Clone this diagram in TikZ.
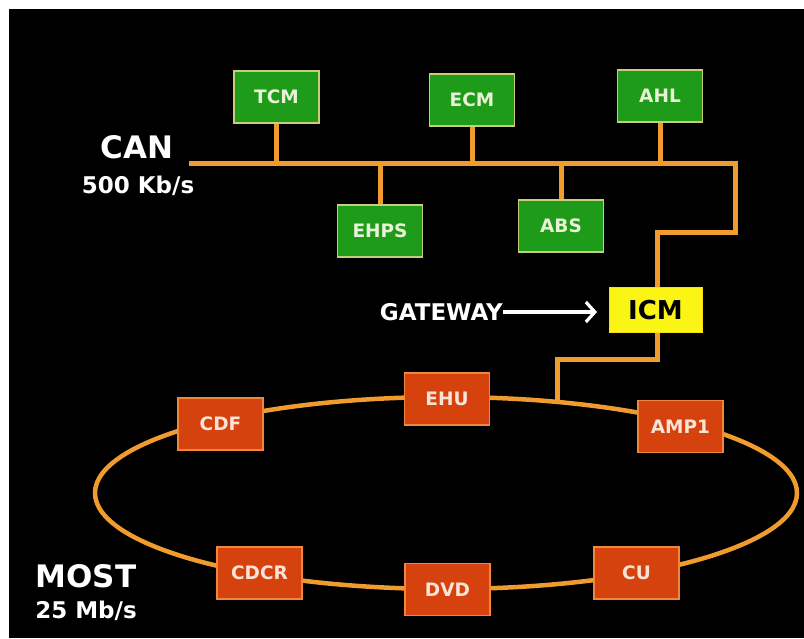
\documentclass[tikz,border=0pt]{standalone}
\usepackage{fontspec}
\setmainfont{DejaVu Sans}
\usetikzlibrary{arrows.meta}
\definecolor{busorange}{RGB}{240,155,45}
\definecolor{cangreen}{RGB}{30,155,25}
\definecolor{canedge}{RGB}{200,205,120}
\definecolor{cantext}{RGB}{232,242,215}
\definecolor{mostred}{RGB}{214,66,14}
\definecolor{mostedge}{RGB}{240,135,60}
\definecolor{mosttext}{RGB}{250,228,215}
\definecolor{gwyellow}{RGB}{250,245,20}
\tikzset{
  wire/.style={draw=busorange, line width=5pt},
  ring/.style={draw=busorange, line width=4.5pt},
  ecubox/.style={rectangle, minimum width=85pt, minimum height=52pt, inner sep=0pt,
    line width=1.2pt, font=\fontsize{18.5}{21}\selectfont\bfseries},
  canecu/.style={ecubox, fill=cangreen, draw=canedge, text=cantext},
  mostecu/.style={ecubox, fill=mostred, draw=mostedge, text=mosttext},
  gwbox/.style={rectangle, minimum width=93pt, minimum height=45pt, inner sep=0pt,
    fill=gwyellow, draw=gwyellow!80!orange, line width=1pt, text=black,
    font=\fontsize{26}{30}\selectfont\bfseries},
  bigtitle/.style={text=white, inner sep=0pt, font=\fontsize{31}{34}\selectfont\bfseries},
  rate/.style={text=white, inner sep=0pt, font=\fontsize{23}{26}\selectfont\bfseries},
}
\begin{document}
\begin{tikzpicture}[x=1pt, y=-1pt]
  % page and dark panel
  \fill[white] (0,0) rectangle (804,639);
  \fill[black] (9,9) rectangle (804,638);
  \useasboundingbox (0,0) rectangle (804,639);

  % MOST ring, drawn first so the ECU boxes sit on top of it
  \draw[ring] (446,493) ellipse [x radius=351pt, y radius=96pt];

  % bus corner points
  \coordinate (busL) at (189,164);
  \coordinate (busR) at (735,164);
  \coordinate (drop1) at (735,233);
  \coordinate (drop2) at (657,233);
  \coordinate (tap1) at (657,360);
  \coordinate (tap2) at (557,360);
  \coordinate (ringtap) at (557,402);

  % CAN bus and the gateway link down to the ring
  \draw[wire] (busL) -- (busR) -- (drop1) -- (drop2) -- (drop2 |- 0,300);
  \draw[wire] (657,330) -- (tap1) -- (tap2) -- (ringtap);

  % CAN modules
  \node[canecu] (TCM)  at (276.5,97)  {TCM};
  \node[canecu] (ECM)  at (472,100)   {ECM};
  \node[canecu] (AHL)  at (660,96)    {AHL};
  \node[canecu] (EHPS) at (380,231)   {EHPS};
  \node[canecu] (ABS)  at (561,226)   {ABS};

  % stubs from each module to the bus
  \draw[wire] (TCM.south)  -- (TCM.south |- busL);
  \draw[wire] (ECM.south)  -- (ECM.south |- busL);
  \draw[wire] (AHL.south)  -- (AHL.south |- busL);
  \draw[wire] (EHPS.north) -- (EHPS.north |- busL);
  \draw[wire] (ABS.north)  -- (ABS.north |- busL);

  % gateway module
  \node[gwbox] (ICM) at (655.5,310.5) {ICM};

  % MOST modules
  \node[mostecu] (EHU)  at (447,399)    {EHU};
  \node[mostecu] (AMP1) at (680.5,426.5) {AMP1};
  \node[mostecu] (CDF)  at (220.5,424)  {CDF};
  \node[mostecu] (CDCR) at (259.5,573)  {CDCR};
  \node[mostecu] (DVD)  at (447.5,589.5) {DVD};
  \node[mostecu] (CU)   at (636.5,573)  {CU};

  % labels
  \node[bigtitle] (can)  at (137,147) {CAN};
  \node[rate]     (canr) at (138,186) {500 Kb/s};
  \node[bigtitle] (most) at (86,576)  {MOST};
  \node[rate]     (mostr) at (86,611) {25 Mb/s};

  \node[text=white, inner sep=0pt, anchor=east,
        font=\fontsize{23}{26}\selectfont\bfseries] (gw) at (503,312) {GATEWAY};
  \coordinate (gwtip) at (597,312);
  \draw[white, line width=3.2pt, -{Straight Barb[length=9pt, width=20pt]}]
    (gw.east) -- (gwtip);
\end{tikzpicture}
\end{document}
